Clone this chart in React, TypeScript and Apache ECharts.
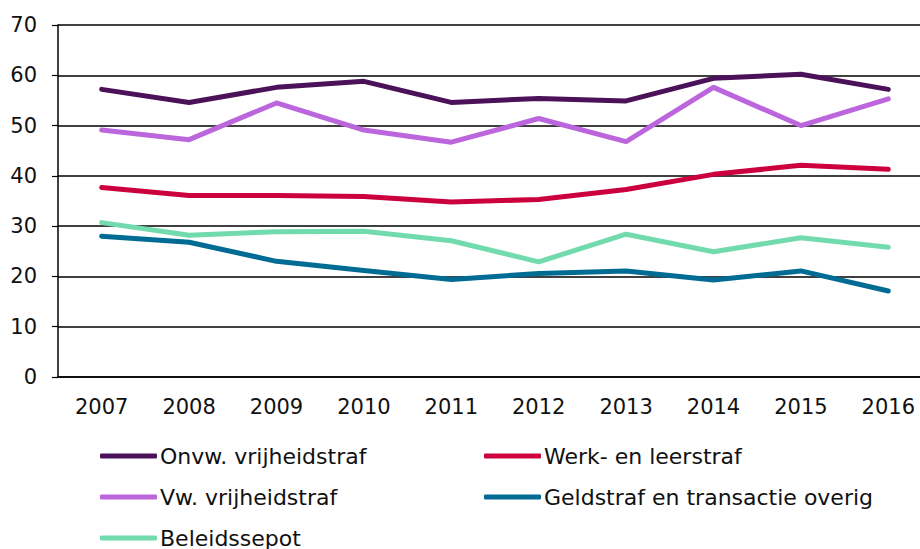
import React, { useEffect, useRef } from "react";
import * as echarts from "echarts";

const years = ["2007", "2008", "2009", "2010", "2011", "2012", "2013", "2014", "2015", "2016"];
const onvw = [57.2, 54.6, 57.6, 58.8, 54.6, 55.4, 54.9, 59.4, 60.2, 57.2];
const werk = [37.7, 36.1, 36.1, 35.9, 34.8, 35.3, 37.3, 40.3, 42.1, 41.3];
const vw = [49.1, 47.2, 54.5, 49.1, 46.7, 51.4, 46.8, 57.6, 50.0, 55.3];
const geld = [28.0, 26.8, 23.0, 21.2, 19.4, 20.6, 21.1, 19.3, 21.1, 17.1];
const beleid = [30.7, 28.2, 28.9, 29.0, 27.1, 22.9, 28.4, 24.9, 27.7, 25.8];

const names = [
  "Onvw. vrijheidstraf",
  "Werk- en leerstraf",
  "Vw. vrijheidstraf",
  "Geldstraf en transactie overig",
  "Beleidssepot",
];
const colors = ["#4b1259", "#cc003f", "#bb66dc", "#006c94", "#72dbad"];
const values = [onvw, werk, vw, geld, beleid];

const FONT = "DejaVu Sans";

export default function App() {
  const ref = useRef<HTMLDivElement>(null);
  useEffect(() => {
    document.body.style.margin = "0";
    document.body.style.overflow = "hidden";
    if (!ref.current) return;
    const chart = echarts.init(ref.current, undefined, { renderer: "svg" });
    const legendCommon = {
      orient: "vertical" as const,
      icon: "roundRect",
      itemWidth: 57,
      itemHeight: 5,
      itemGap: 19,
      padding: 0,
      selectedMode: false,
      textStyle: { fontFamily: FONT, fontSize: 22, color: "#111", padding: [0, 0, 0, -2] },
    };
    chart.setOption({
      animation: false,
      textStyle: { fontFamily: FONT },
      grid: { left: 58, top: 25, right: 0, bottom: 172, containLabel: false },
      legend: [
        { ...legendCommon, left: 100, top: 445, data: [names[0], names[2], names[4]] },
        { ...legendCommon, left: 484, top: 445, data: [names[1], names[3]] },
      ],
      xAxis: {
        type: "category",
        data: years,
        boundaryGap: true,
        axisLine: { lineStyle: { color: "#000", width: 1.5 } },
        axisTick: { length: 6, lineStyle: { color: "#000", width: 1.2 } },
        axisLabel: { fontFamily: FONT, fontSize: 21, color: "#111", margin: 19 },
      },
      yAxis: {
        type: "value",
        min: 0,
        max: 70,
        interval: 10,
        axisLine: { show: true, lineStyle: { color: "#000", width: 1.5 } },
        axisTick: { show: true, length: 6, lineStyle: { color: "#000", width: 1.2 } },
        axisLabel: { fontFamily: FONT, fontSize: 21, color: "#111", margin: 21 },
        splitLine: { lineStyle: { color: "#000", width: 1.5 } },
      },
      series: names.map((n, i) => ({
        name: n,
        type: "line",
        data: values[i],
        showSymbol: false,
        symbol: "none",
        color: colors[i],
        lineStyle: { width: 5, color: colors[i], cap: "round", join: "round" },
        z: 2 + i,
      })),
    });
    return () => chart.dispose();
  }, []);
  return (
    <div style={{ width: 920, height: 549, overflow: "hidden", position: "relative" }}>
      <div ref={ref} style={{ width: 932, height: 549 }} />
    </div>
  );
}
